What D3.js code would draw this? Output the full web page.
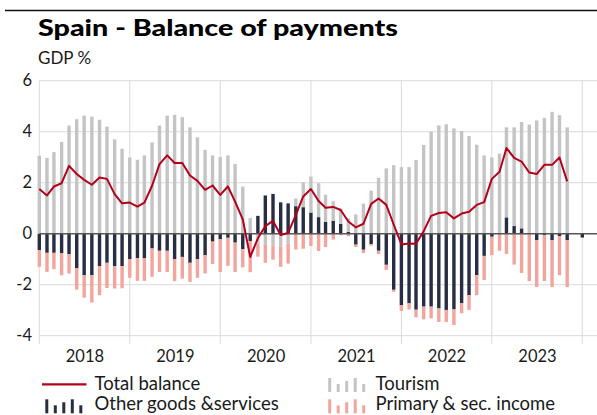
<!DOCTYPE html>
<html>
<head>
<meta charset="utf-8">
<script src="https://cdn.jsdelivr.net/npm/d3@7"></script>
<style>
  html, body { margin: 0; padding: 0; background: #fff; }
  svg { display: block; }
  text { font-family: Lato, "Open Sans", sans-serif; fill: #1a1a1a; }
</style>
</head>
<body>
<div id="chart"></div>
<script>
'use strict';

// chart size
const
    W = 597,
    H = 415;

// months Jan 2018 .. Jan 2024
const months = d3.timeMonths(new Date(2018, 0, 1), new Date(2024, 1, 1));

// GDP %
const tourism = [
    3.06, 2.97, 3.20, 3.60, 4.24, 4.49, 4.63, 4.59, 4.47, 4.20, 3.70, 3.33,
    2.99, 2.90, 3.07, 3.58, 4.24, 4.63, 4.66, 4.57, 4.17, 3.78, 3.29, 3.07,
    3.01, 3.07, 2.73, 1.85, 0.62, -0.40, -0.44, -0.45, -0.50, -0.38, 0.30, 0.97,
    1.41, 1.33, 1.06, 0.76, 0.60, 0.53, 0.76, 1.18, 1.69, 2.19, 2.56, 2.69,
    2.61, 2.61, 2.89, 3.48, 3.99, 4.25, 4.29, 4.13, 4.03, 3.83, 3.49, 3.07,
    2.99, 3.14, 3.53, 3.87, 4.17, 4.28, 4.44, 4.54, 4.78, 4.65, 4.17, 0,
    0
];
const otherGoods = [
    -0.64, -0.75, -0.75, -0.77, -0.81, -1.35, -1.63, -1.63, -1.27, -1.14, -1.27, -1.27,
    -1.00, -0.96, -0.97, -0.58, -0.67, -0.67, -1.00, -0.91, -1.14, -1.00, -0.84, -0.31,
    -0.22, -0.16, -0.35, -0.61, -0.29, 0.70, 1.50, 1.56, 1.23, 1.19, 1.08, 1.04,
    0.83, 0.65, 0.47, 0.51, 0.39, 0.07, -0.43, -0.63, -0.41, -0.67, -1.22, -2.20,
    -2.81, -2.73, -2.98, -2.86, -2.86, -2.93, -2.99, -2.97, -2.73, -2.41, -1.63, -0.87,
    -0.12, -0.03, 0.64, 0.30, 0.21, -0.01, -0.25, -0.05, -0.25, -0.09, -0.25, 0,
    -0.15
];
const income = [
    -0.66, -0.75, -0.64, -0.86, -0.75, -0.84, -0.88, -1.07, -1.14, -0.99, -0.88, -0.87,
    -0.73, -0.89, -0.88, -1.11, -0.83, -0.83, -0.86, -0.85, -0.75, -0.73, -0.72, -0.88,
    -1.28, -1.10, -1.15, -0.71, -1.22, -0.50, -0.70, -0.57, -0.80, -0.79, -0.62, -0.59,
    -0.48, -0.68, -0.52, -0.23, -0.06, -0.10, -0.09, -0.13, -0.06, -0.13, -0.20, -0.08,
    -0.22, -0.24, -0.30, -0.50, -0.46, -0.53, -0.47, -0.61, -0.39, -0.58, -0.78, -0.95,
    -0.72, -0.64, -0.80, -1.21, -1.54, -1.85, -1.84, -1.81, -1.84, -1.54, -1.84, 0,
    0
];
const totalBalance = [
    1.75, 1.50, 1.85, 1.98, 2.66, 2.34, 2.11, 1.92, 2.20, 2.15, 1.55, 1.19,
    1.22, 1.06, 1.22, 1.88, 2.73, 3.07, 2.77, 2.77, 2.28, 2.07, 1.72, 1.89,
    1.52, 1.85, 1.26, 0.56, -0.91, -0.18, 0.30, 0.50, -0.05, 0.03, 0.73, 1.46,
    1.75, 1.28, 1.02, 1.05, 0.93, 0.48, 0.25, 0.39, 1.17, 1.38, 1.13, 0.36,
    -0.42, -0.38, -0.39, 0.10, 0.70, 0.81, 0.84, 0.60, 0.79, 0.86, 1.13, 1.24,
    2.15, 2.43, 3.36, 2.97, 2.83, 2.40, 2.34, 2.70, 2.70, 2.99, 2.05, null,
    null
];

const yTicks = [-4, -2, 0, 2, 4, 6];
const years = [2018, 2019, 2020, 2021, 2022, 2023];

const seriesKeys = ['other', 'tourism', 'income'];
const colors = {
    other: '#272d42',
    tourism: '#c4c4c4',
    income: '#f2a59c',
    total: '#b5001c'
};

const rows = months.map((m, i) => ({
    date: m,
    other: otherGoods[i],
    tourism: tourism[i],
    income: income[i],
    total: totalBalance[i]
}));

// scales
const x = d3.scaleTime()
    .domain([new Date(2018, 0, 1), new Date(2024, 0, 1)])
    .range([39.3, 582.3]);
const y = d3.scaleLinear()
    .domain([-4, 6])
    .range([335.7, 80.7]);

const svg = d3.select('#chart')
    .append('svg')
    .attr('width', W)
    .attr('height', H);

// top rule + titles
svg.append('line')
    .attr('x1', 5).attr('x2', W)
    .attr('y1', 10.5).attr('y2', 10.5)
    .attr('stroke', '#111').attr('stroke-width', 1.5);

svg.append('text')
    .attr('x', 38).attr('y', 36)
    .attr('font-family', 'Inter, sans-serif')
    .attr('font-weight', 900)
    .attr('font-size', 22)
    .attr('textLength', 360)
    .attr('lengthAdjust', 'spacingAndGlyphs')
    .style('fill', '#000')
    .text('Spain - Balance of payments');

svg.append('text')
    .attr('x', 38).attr('y', 64)
    .attr('font-size', 17)
    .text('GDP %');

// grid
const grid = svg.append('g').attr('class', 'grid');
grid.selectAll('.hg')
    .data(yTicks.filter(d => d !== 0))
    .join('line')
    .attr('x1', x.range()[0]).attr('x2', W)
    .attr('y1', d => y(d)).attr('y2', d => y(d))
    .attr('stroke', '#dadada').attr('stroke-width', 1);

grid.selectAll('.vg')
    .data(years.concat([2024]))
    .join('line')
    .attr('x1', d => x(new Date(d, 0, 1))).attr('x2', d => x(new Date(d, 0, 1)))
    .attr('y1', y(6)).attr('y2', 344)
    .attr('stroke', '#dadada').attr('stroke-width', 1);

// y axis labels
const yAxis = svg.append('g')
    .attr('transform', 'translate(32,0)')
    .call(d3.axisLeft(y).tickValues(yTicks).tickSize(0).tickPadding(0).tickFormat(d => String(d)));
yAxis.select('.domain').remove();
yAxis.selectAll('text')
    .attr('font-family', 'Lato, sans-serif')
    .attr('font-size', 16.5)
    .style('fill', '#1a1a1a');

// x axis labels (centered in each year)
const xAxis = svg.append('g')
    .attr('transform', 'translate(0,346)')
    .call(d3.axisBottom(x)
        .tickValues(years.map(yr => new Date(yr, 6, 2)))
        .tickSize(0).tickPadding(0)
        .tickFormat(d3.timeFormat('%Y')));
xAxis.select('.domain').remove();
xAxis.selectAll('text')
    .attr('font-family', 'Lato, sans-serif')
    .attr('font-size', 16.5)
    .attr('dy', '0.95em')
    .style('fill', '#1a1a1a');

// stacked bars
const stacked = d3.stack()
    .keys(seriesKeys)
    .offset(d3.stackOffsetDiverging)(rows);

const barW = 3.4;
svg.append('g')
    .selectAll('g')
    .data(stacked)
    .join('g')
    .attr('fill', s => colors[s.key])
    .selectAll('rect')
    .data(s => s.filter(d => d[1] !== d[0]))
    .join('rect')
    .attr('x', d => x(d.data.date) - barW / 2)
    .attr('width', barW)
    .attr('y', d => y(Math.max(d[0], d[1])))
    .attr('height', d => Math.abs(y(d[0]) - y(d[1])));

// zero line
svg.append('line')
    .attr('x1', x.range()[0]).attr('x2', W)
    .attr('y1', y(0)).attr('y2', y(0))
    .attr('stroke', '#555').attr('stroke-width', 1.6);

// total balance line
const line = d3.line()
    .defined(d => d.total !== null)
    .x(d => x(d.date))
    .y(d => y(d.total));

svg.append('path')
    .datum(rows)
    .attr('fill', 'none')
    .attr('stroke', colors.total)
    .attr('stroke-width', 2)
    .attr('stroke-linejoin', 'round')
    .attr('d', line);

// legend
const legend = svg.append('g').attr('class', 'legend');
const iconHeights = [14, 8, 11, 14, 8];

const add_bar_icon = function(g, x0, yb, color){
    g.append('g')
        .selectAll('rect')
        .data(iconHeights)
        .join('rect')
        .attr('x', (h, i) => x0 + i * 8.5)
        .attr('y', h => yb - h)
        .attr('width', 3)
        .attr('height', h => h)
        .attr('fill', color);
}

legend.append('line')
    .attr('x1', 42).attr('x2', 86.5)
    .attr('y1', 384.3).attr('y2', 384.3)
    .attr('stroke', colors.total).attr('stroke-width', 2.2);
add_bar_icon(legend, 328.2, 392, colors.tourism);
add_bar_icon(legend, 45.3, 413.3, colors.other);
add_bar_icon(legend, 328.2, 413.3, colors.income);

const legendText = [
    ['Total balance', 94.5, 390],
    ['Tourism', 375.5, 390],
    ['Other goods &services', 94.5, 410],
    ['Primary & sec. income', 375.5, 410]
];
legend.selectAll('text')
    .data(legendText)
    .join('text')
    .attr('x', d => d[1])
    .attr('y', d => d[2])
    .attr('font-size', 18.5)
    .text(d => d[0]);
</script>
</body>
</html>
